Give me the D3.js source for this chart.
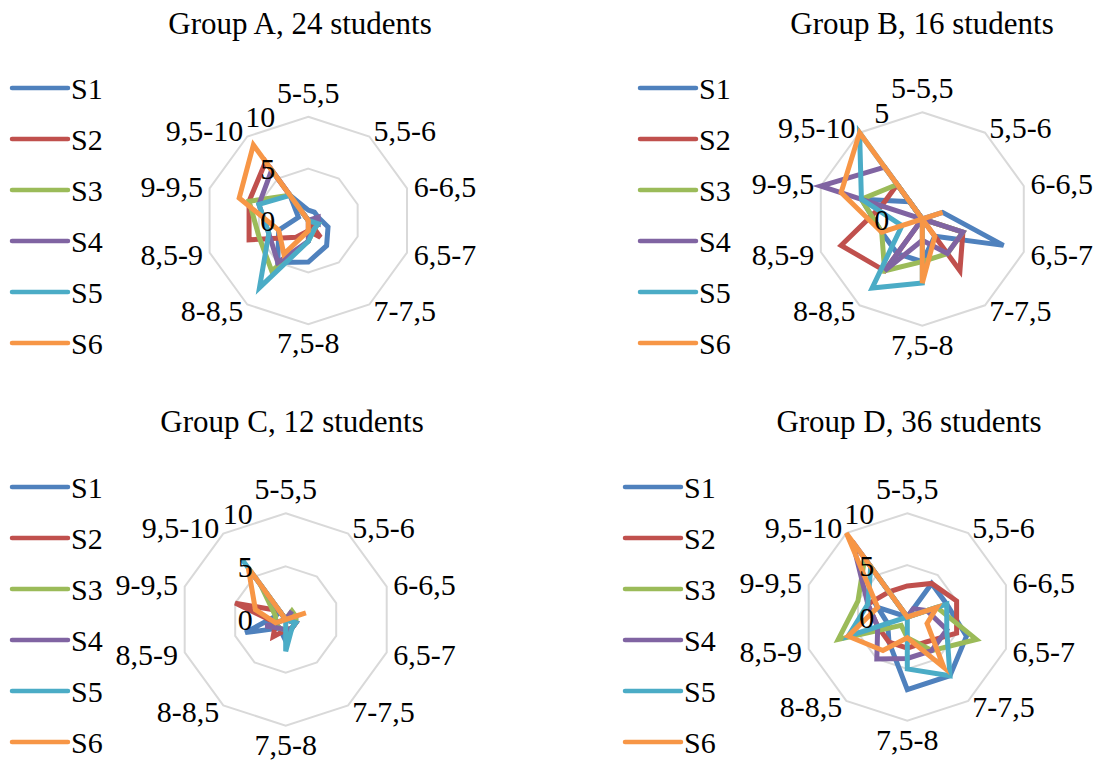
<!DOCTYPE html>
<html>
<head>
<meta charset="utf-8">
<script src="https://cdn.jsdelivr.net/npm/d3@7"></script>
<style>
  html, body { margin: 0; padding: 0; background: #ffffff; }
  svg { display: block; }
  svg text { font-family: "Liberation Serif", "Times New Roman", Times, "DejaVu Serif", serif; }
</style>
</head>
<body>
<svg id="chart" width="1094" height="761"></svg>
<script>
// Grade bands (spokes of each radar)
const categories = ["5-5,5", "5,5-6", "6-6,5", "6,5-7", "7-7,5", "7,5-8", "8-8,5", "8,5-9", "9-9,5", "9,5-10"];
const seriesNames = ["S1", "S2", "S3", "S4", "S5", "S6"];
const groupTitles = ["Group A, 24 students", "Group B, 16 students", "Group C, 12 students", "Group D, 36 students"];
const axisMax = [10, 5, 10, 10];
const axisTicks = [[0, 5, 10], [0, 5], [0, 5, 10], [0, 5, 10]];

// Students per grade band, one row per series S1..S6
const groupA = [
  [1, 1, 1, 2, 3, 4, 5, 3, 1, 3],
  [0, 0, 0, 0, 2, 1, 2, 6, 6, 7],
  [0, 0, 0, 1, 1, 2, 6, 5, 6, 3],
  [0, 0, 1, 1, 0, 2, 5, 4, 5, 6],
  [0, 0, 0, 1, 1, 2, 8, 4, 5, 3],
  [0, 0, 0, 0, 0, 1, 4, 3, 7, 9]
];
const groupB = [
  [0, 0, 1, 4, 1, 2, 2, 2, 3, 1],
  [0, 0, 0, 2, 3, 0, 3, 4, 2, 2],
  [0, 0, 0, 2, 2, 2, 3, 2, 3, 2],
  [0, 0, 0, 2, 2, 1, 3, 0, 5, 3],
  [0, 0, 0, 0, 0, 3, 4, 1, 3, 5],
  [0, 0, 1, 0, 1, 3, 0, 2, 4, 5]
];
const groupC = [
  [0, 0, 1, 1, 1, 2, 1, 4, 1, 1],
  [0, 0, 0, 1, 1, 1, 2, 1, 5, 1],
  [0, 1, 1, 1, 1, 1, 1, 1, 1, 4],
  [0, 1, 0, 1, 1, 1, 1, 2, 0, 5],
  [0, 0, 0, 1, 1, 3, 0, 0, 0, 7],
  [0, 0, 2, 0, 0, 0, 0, 1, 3, 6]
];
const groupD = [
  [0, 4, 4, 6, 7, 7, 3, 2, 3, 0],
  [3, 4, 5, 5, 3, 3, 3, 3, 4, 3],
  [0, 0, 3, 7, 4, 2, 1, 7, 5, 7],
  [0, 1, 2, 4, 4, 4, 5, 3, 4, 9],
  [0, 0, 4, 4, 7, 5, 0, 6, 4, 6],
  [0, 0, 3, 2, 6, 2, 4, 6, 3, 10]
];
const groups = [groupA, groupB, groupC, groupD];

const palette = ["#4f81bd", "#c0504d", "#9bbb59", "#8064a2", "#4bacc6", "#f79646"];

// Panel placement
const panels = [
  { cx: 308.3, cy: 220.5, r: 103.8, tx: 300, ty: 34, lx: 12, ly: 88 },
  { cx: 922.3, cy: 219.0, r: 106.7, tx: 922, ty: 34, lx: 640, ly: 88 },
  { cx: 285.7, cy: 619.5, r: 106.2, tx: 292, ty: 432, lx: 12, ly: 487 },
  { cx: 907.3, cy: 617.0, r: 103.7, tx: 909, ty: 432, lx: 625, ly: 487 }
];

const svg = d3.select("#chart");
const FONT = 30;
const TITLE_FONT = 31;
const SERIF = "'Liberation Serif', 'Times New Roman', Times, 'DejaVu Serif', serif";
const angle = d3.scaleLinear().domain([0, categories.length]).range([0, 2 * Math.PI]);

groups.forEach((rows, gi) => {
  const p = panels[gi];
  const g = svg.append("g").attr("transform", `translate(${p.cx},${p.cy})`);
  const radius = d3.scaleLinear().domain([0, axisMax[gi]]).range([0, p.r]);

  const radial = d3.lineRadial()
    .angle((d, i) => angle(i))
    .radius(d => radius(d))
    .curve(d3.curveLinearClosed);

  // Grid rings (decagons)
  axisTicks[gi].filter(t => t > 0).forEach(t => {
    g.append("path")
      .attr("d", radial(categories.map(() => t)))
      .attr("fill", "none")
      .attr("stroke", "#d9d9d9")
      .attr("stroke-width", 2);
  });

  // Series polygons
  rows.forEach((vals, si) => {
    g.append("path")
      .attr("d", radial(vals))
      .attr("fill", "none")
      .attr("stroke", palette[si])
      .attr("stroke-width", 5)
      .attr("stroke-linejoin", "miter");
  });

  // Value labels along the top spoke
  axisTicks[gi].forEach(t => {
    g.append("text")
      .attr("x", -33)
      .attr("y", -radius(t))
      .attr("dy", "0.35em")
      .attr("text-anchor", "end")
      .attr("font-family", SERIF)
      .attr("font-size", FONT)
      .attr("fill", "#000")
      .text(t);
  });

  // Category labels
  categories.forEach((c, i) => {
    const a = angle(i);
    const s = Math.sin(a), co = Math.cos(a);
    const t = g.append("text")
      .attr("font-family", SERIF)
      .attr("font-size", FONT)
      .attr("fill", "#000")
      .text(c);
    if (Math.abs(s) < 1e-6) {
      t.attr("text-anchor", "middle").attr("x", 0);
      if (co > 0) t.attr("y", -p.r - 14);
      else t.attr("y", p.r + 29);
    } else {
      const d = p.r + 7;
      t.attr("text-anchor", s > 0 ? "start" : "end")
        .attr("x", d * s)
        .attr("y", -d * co)
        .attr("dy", "0.35em");
    }
  });

  // Title
  svg.append("text")
    .attr("x", p.tx)
    .attr("y", p.ty)
    .attr("text-anchor", "middle")
    .attr("font-family", SERIF)
    .attr("font-size", TITLE_FONT)
    .attr("fill", "#000")
    .text(groupTitles[gi]);

  // Legend
  const lg = svg.append("g").attr("transform", `translate(${p.lx},${p.ly})`);
  seriesNames.forEach((n, si) => {
    const row = lg.append("g").attr("transform", `translate(0,${si * 51})`);
    row.append("line")
      .attr("x1", 0).attr("x2", 56)
      .attr("y1", 0).attr("y2", 0)
      .attr("stroke", palette[si])
      .attr("stroke-width", 4.5)
      .attr("stroke-linecap", "round");
    row.append("text")
      .attr("x", 59)
      .attr("y", 0)
      .attr("dy", "0.35em")
      .attr("font-family", SERIF)
      .attr("font-size", FONT)
      .attr("fill", "#000")
      .text(n);
  });
});
</script>
</body>
</html>
